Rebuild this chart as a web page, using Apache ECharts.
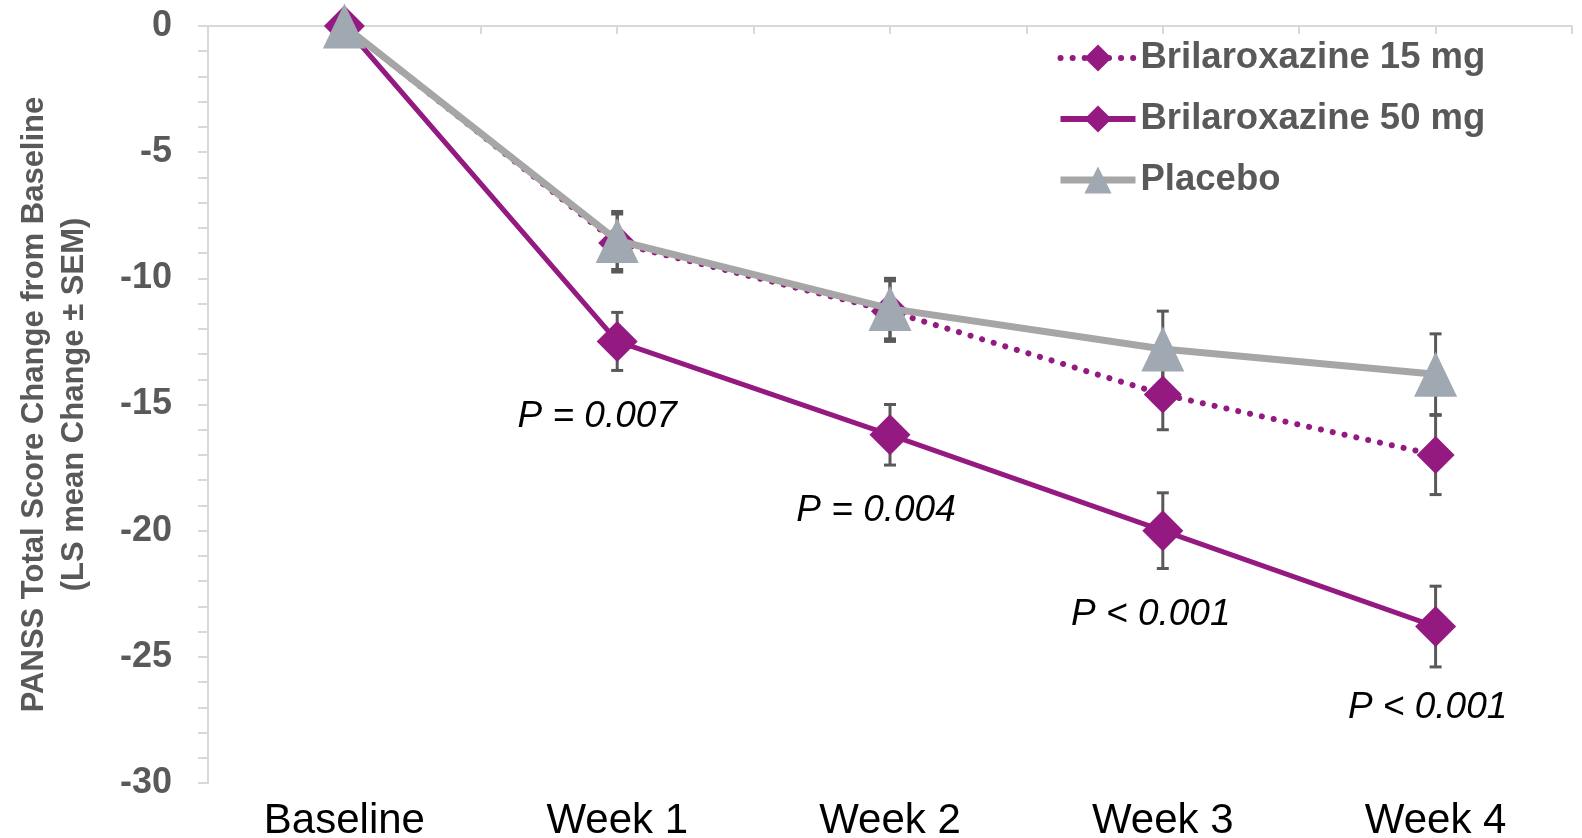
<!DOCTYPE html>
<html>
<head>
<meta charset="utf-8">
<script src="https://cdn.jsdelivr.net/npm/echarts@6/dist/echarts.min.js"></script>
<style>html,body{margin:0;padding:0;background:#fff}#c{width:1582px;height:838px}</style>
</head>
<body>
<div id="c"></div>
<script>
const categories = ['Baseline', 'Week 1', 'Week 2', 'Week 3', 'Week 4'];
const seriesNames = ['Brilaroxazine 15 mg', 'Brilaroxazine 50 mg', 'Placebo'];
const mean15 = [0, -8.6, -11.3, -14.6, -17.0];
const sem15 = [null, 1.15, 1.2, 1.4, 1.57];
const mean50 = [0, -12.5, -16.2, -20.0, -23.8];
const sem50 = [null, 1.15, 1.2, 1.5, 1.6];
const meanPbo = [0, -8.5, -11.2, -12.8, -13.8];
const semPbo = [null, 1.15, 1.2, 1.5, 1.6];
const pLabels = [null, 'P = 0.007', 'P = 0.004', 'P < 0.001', 'P < 0.001'];
const yTicks = { min: -30, max: 0, step: 5 };

const FONT = 'Liberation Sans, Arial, sans-serif';
const PURPLE = '#941A82';
const GRAY_TEXT = '#595959';
const AXIS_GRAY = '#D9D9D9';
const labelOffsets = [null, [-20, 75], [-14, 76], [-12, 84], [-8, 81]];
const DOT = [0.1, 12];

function errData(mean, sem) {
  const out = [];
  mean.forEach((m, i) => { if (sem[i] != null) out.push([i, m - sem[i], m + sem[i]]); });
  return out;
}
function renderErr(params, api) {
  const x = api.value(0), lo = api.value(1), hi = api.value(2);
  const t = api.coord([x, hi]), b = api.coord([x, lo]);
  const hw = 6, st = { stroke: '#595959', lineWidth: 3 };
  return { type: 'group', children: [
    { type: 'line', shape: { x1: t[0], y1: t[1], x2: b[0], y2: b[1] }, style: st },
    { type: 'line', shape: { x1: t[0] - hw, y1: t[1], x2: t[0] + hw, y2: t[1] }, style: st },
    { type: 'line', shape: { x1: b[0] - hw, y1: b[1], x2: b[0] + hw, y2: b[1] }, style: st }
  ]};
}
function errSeries(name, mean, sem) {
  return { type: 'custom', name: name, z: 1, renderItem: renderErr, encode: { x: 0, y: [1, 2] },
    data: errData(mean, sem), silent: true };
}

const chart = echarts.init(document.getElementById('c'), null, { renderer: 'canvas' });
chart.setOption({
  animation: false,
  backgroundColor: '#fff',
  grid: { left: 208, right: 10, top: 26, bottom: 55, containLabel: false, outerBoundsMode: 'none' },
  legend: {
    data: [
      { name: seriesNames[0], lineStyle: { width: 6, type: DOT, cap: 'round' } },
      { name: seriesNames[1], lineStyle: { width: 6 } },
      { name: seriesNames[2], lineStyle: { width: 7 } }
    ],
    orient: 'vertical', left: 1052, top: 33, itemWidth: 75, itemHeight: 34, itemGap: 21,
    textStyle: { fontFamily: FONT, fontSize: 36.5, fontWeight: 'bold', color: GRAY_TEXT, lineHeight: 40 }
  },
  xAxis: [
    { type: 'category', data: categories, position: 'bottom', boundaryGap: true,
      axisLine: { show: false, onZero: false }, axisTick: { show: false },
      axisLabel: { fontFamily: FONT, fontSize: 42, color: '#000', margin: 17 } },
    { type: 'category', data: categories.flatMap(c => [c + 'a', c + 'b']), position: 'top', boundaryGap: true,
      axisLine: { show: true, onZero: false, lineStyle: { color: AXIS_GRAY, width: 2 } },
      axisTick: { show: true, inside: true, length: 8, lineStyle: { color: AXIS_GRAY, width: 2 } },
      axisLabel: { show: false } }
  ],
  yAxis: {
    type: 'value', min: yTicks.min, max: yTicks.max, interval: yTicks.step,
    name: 'PANSS Total Score Change from Baseline\n(LS mean Change ± SEM)',
    nameLocation: 'middle', nameGap: 114,
    nameTextStyle: { fontFamily: FONT, fontSize: 31, fontWeight: 'bold', color: GRAY_TEXT, lineHeight: 40, align: 'center' },
    axisLine: { show: true, lineStyle: { color: AXIS_GRAY, width: 2 } },
    axisTick: { show: true, length: 10, lineStyle: { color: AXIS_GRAY, width: 2 } },
    minorTick: { show: true, splitNumber: 5, length: 10, lineStyle: { color: AXIS_GRAY, width: 2 } },
    splitLine: { show: false },
    axisLabel: { fontFamily: FONT, fontSize: 36, fontWeight: 'bold', color: GRAY_TEXT, margin: 36 }
  },
  series: [
    errSeries('err15', mean15, sem15),
    errSeries('err50', mean50, sem50),
    errSeries('errPbo', meanPbo, semPbo),
    { type: 'line', name: seriesNames[0], data: mean15, z: 2, symbol: 'diamond', symbolSize: 38,
      itemStyle: { color: PURPLE },
      lineStyle: { color: PURPLE, width: 6, type: DOT, cap: 'round' } },
    { type: 'line', name: seriesNames[1], data: mean50.map((v, i) => ({
        value: v,
        label: pLabels[i] ? { show: true, formatter: pLabels[i], position: 'inside', offset: labelOffsets[i],
          fontFamily: FONT, fontSize: 37, fontStyle: 'italic', color: '#000' } : { show: false }
      })), z: 3, symbol: 'diamond', symbolSize: 41,
      itemStyle: { color: PURPLE }, lineStyle: { color: PURPLE, width: 5 } },
    { type: 'line', name: seriesNames[2], data: meanPbo, z: 4, symbol: 'triangle', symbolSize: [43, 45],
      itemStyle: { color: '#A0A8B2' }, lineStyle: { color: '#A6A6A6', width: 7 } }
  ]
});
</script>
</body>
</html>
